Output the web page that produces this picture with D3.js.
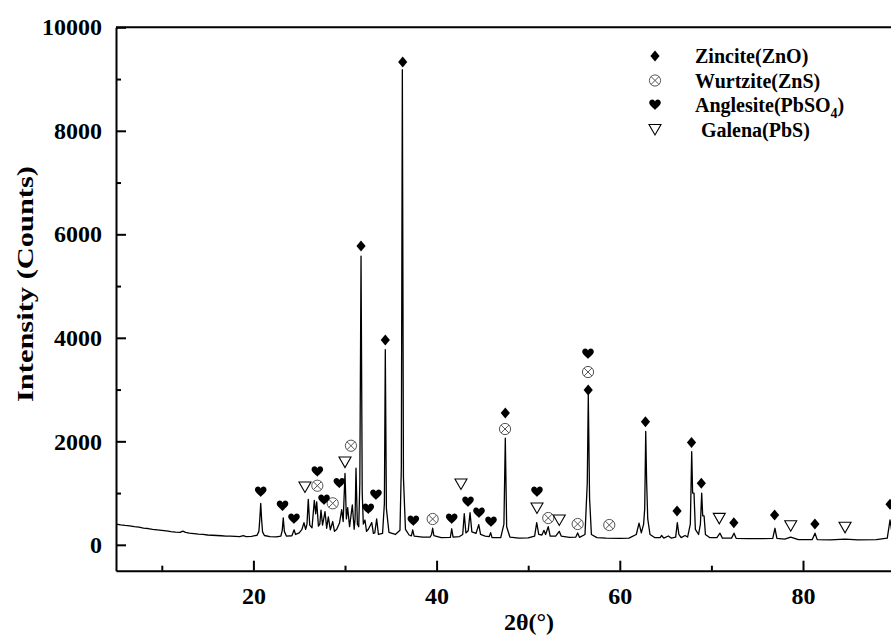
<!DOCTYPE html>
<html>
<head>
<meta charset="utf-8">
<script src="https://cdn.jsdelivr.net/npm/d3@7"></script>
<style>
  body { margin: 0; background: #fff; }
  svg { display: block; }
</style>
</head>
<body>
<svg id="chart" width="891" height="635"></svg>
<script>
// XRD pattern: [2θ, counts]
const pattern = [
  [5.0, 400], [5.5, 385], [6.0, 375], [6.5, 368], [7.0, 350], [7.5, 340], [8.0, 322], [8.5, 315],
  [9.0, 300], [9.5, 290], [10.0, 280], [10.5, 268], [11.0, 255], [11.5, 245], [12.0, 240], [12.3, 265],
  [12.6, 240], [13.0, 225], [13.5, 215], [14.0, 205], [14.5, 200], [15.0, 190], [15.5, 185], [16.0, 180],
  [16.5, 175], [17.0, 170], [17.5, 170], [18.0, 165], [18.5, 160], [18.9, 178], [19.2, 160], [19.8, 165],
  [20.4, 185], [20.6, 260], [20.7, 500], [20.8, 800], [20.9, 480], [21.0, 250], [21.2, 180], [21.8, 160],
  [22.5, 155], [23.0, 170], [23.15, 280], [23.26, 520], [23.38, 260], [23.6, 170], [24.2, 175], [24.45, 290],
  [24.6, 200], [25.0, 230], [25.3, 300], [25.52, 430], [25.7, 300], [25.85, 400], [25.99, 880], [26.15, 380],
  [26.4, 330], [26.65, 860], [26.8, 600], [26.91, 830], [27.1, 360], [27.25, 400], [27.38, 670], [27.55, 380],
  [27.82, 640], [28.0, 320], [28.18, 540], [28.4, 290], [28.66, 450], [28.85, 260], [29.1, 300], [29.4, 420],
  [29.64, 680], [29.8, 450], [30.0, 1380], [30.15, 500], [30.29, 720], [30.5, 350], [30.8, 770], [31.0, 300],
  [31.1, 500], [31.2, 1480], [31.35, 400], [31.5, 350], [31.62, 1200], [31.75, 5580], [31.88, 1000], [32.0, 400],
  [32.18, 480], [32.35, 260], [32.55, 300], [32.92, 430], [33.1, 220], [33.25, 230], [33.46, 500], [33.65, 200],
  [34.1, 220], [34.3, 800], [34.4, 3770], [34.52, 700], [34.8, 240], [35.5, 200], [36.0, 280], [36.15, 1500],
  [36.26, 9180], [36.38, 1300], [36.6, 300], [37.0, 190], [37.25, 175], [37.39, 290], [37.55, 170], [38.5, 150],
  [39.3, 150], [39.45, 200], [39.57, 320], [39.7, 180], [40.5, 140], [41.5, 145], [41.65, 310], [41.8, 150],
  [42.5, 160], [42.85, 200], [43.02, 600], [43.2, 230], [43.45, 270], [43.65, 620], [43.85, 250], [44.3, 220],
  [44.6, 390], [44.8, 200], [45.3, 170], [45.75, 160], [45.9, 235], [46.05, 140], [47.0, 140], [47.35, 400],
  [47.5, 2060], [47.65, 350], [48.0, 150], [49.0, 130], [50.0, 135], [50.7, 170], [50.93, 430], [51.15, 200],
  [51.5, 190], [51.72, 280], [51.9, 200], [52.19, 350], [52.4, 170], [53.0, 170], [53.39, 260], [53.6, 170],
  [54.5, 145], [55.2, 150], [55.4, 230], [55.6, 145], [56.2, 200], [56.45, 1200], [56.56, 2900], [56.7, 900],
  [56.9, 200], [57.5, 140], [58.5, 130], [60.0, 125], [61.0, 130], [61.8, 200], [62.1, 420], [62.35, 230],
  [62.6, 400], [62.72, 700], [62.83, 2190], [62.93, 1220], [63.05, 500], [63.3, 200], [63.8, 140], [64.4, 140],
  [64.57, 180], [64.8, 130], [65.3, 170], [65.6, 130], [66.1, 150], [66.28, 430], [66.45, 200], [66.7, 140],
  [67.12, 180], [67.4, 150], [67.7, 400], [67.85, 1800], [67.95, 1000], [68.1, 1000], [68.25, 300], [68.6, 200],
  [68.8, 400], [68.94, 1000], [69.05, 560], [69.2, 560], [69.35, 200], [69.8, 140], [70.6, 140], [70.94, 225],
  [71.2, 130], [72.2, 130], [72.47, 225], [72.7, 125], [74.0, 120], [75.5, 120], [76.7, 125], [76.94, 320],
  [77.15, 125], [78.0, 110], [78.66, 150], [79.5, 100], [81.0, 100], [81.31, 225], [81.55, 100], [83.0, 95],
  [84.59, 110], [86.0, 95], [88.0, 100], [89.2, 130], [89.5, 480], [89.7, 250], [90.0, 150]
]

// phase markers: [2θ, height of marker centre in counts]
const zincite = [[31.75, 5774], [34.4, 3958], [36.3, 9330], [47.5, 2547], [56.55, 2992], [62.8, 2379],
  [66.25, 654], [67.83, 1977], [68.9, 1189], [72.45, 427], [76.9, 576], [81.3, 402], [89.5, 783]]
const wurtzite = [[26.98, 1142], [28.66, 802], [30.65, 1915], [39.57, 499], [47.47, 2238], [52.19, 518],
  [55.4, 402], [56.53, 3339], [58.85, 383]]
const anglesite = [[20.8, 1021], [23.18, 750], [24.43, 499], [26.98, 1413], [27.71, 866], [29.38, 1189],
  [32.54, 692], [33.38, 963], [37.46, 460], [41.65, 499], [43.43, 827], [44.63, 615], [45.94, 441],
  [50.96, 1021], [56.53, 3687]]
const galena = [[25.63, 1117], [30.0, 1600], [42.66, 1175], [50.96, 712], [53.39, 480], [70.86, 512],
  [78.66, 370], [84.59, 339]]

const legendItems = [
  { key: 'zincite', label: 'Zincite(ZnO)' },
  { key: 'wurtzite', label: 'Wurtzite(ZnS)' },
  { key: 'anglesite', label: 'Anglesite(PbSO', sub: '4', tail: ')' },
  { key: 'galena', label: ' Galena(PbS)' }
]

const xMajor = [20, 40, 60, 80]
const xMinor = [10, 30, 50, 70, 90]
const yMajor = [0, 2000, 4000, 6000, 8000, 10000]
const yMinor = [1000, 3000, 5000, 7000, 9000]

const serif = '"Liberation Serif", Tinos, "Times New Roman", Times, "DejaVu Serif", serif'

const svg = d3.select('#chart')
const x = d3.scaleLinear().domain([5, 90]).range([116, 894.6])
const y = d3.scaleLinear().domain([-500, 10000]).range([570.7, 27.3])

// marker shapes, centred on 0,0
const shapes = {
  zincite: g => g.append('path').attr('d', 'M0,-5.5L4.6,0L0,5.5L-4.6,0Z').attr('fill', '#000'),
  wurtzite: g => {
    g.append('circle').attr('r', 5.6).attr('fill', '#fff').attr('stroke', '#555').attr('stroke-width', 1)
    g.append('path').attr('d', 'M-4,-4L4,4M4,-4L-4,4').attr('stroke', '#555').attr('stroke-width', 1)
  },
  anglesite: g => g.append('path')
    .attr('d', 'M0,5C-1,3.5 -5.8,0.5 -5.8,-2.2C-5.8,-4.6 -4,-5.4 -2.8,-5.4C-1.5,-5.4 -0.4,-4.6 0,-3.4' +
      'C0.4,-4.6 1.5,-5.4 2.8,-5.4C4,-5.4 5.8,-4.6 5.8,-2.2C5.8,0.5 1,3.5 0,5Z')
    .attr('fill', '#000'),
  galena: g => g.append('path').attr('d', 'M-6,-5L6,-5L0,5.5Z')
    .attr('fill', '#fff').attr('stroke', '#000').attr('stroke-width', 1.1)
}

// pattern line
const line = d3.line().x(d => x(d[0])).y(d => y(d[1]))
svg.append('path')
  .datum(pattern)
  .attr('fill', 'none')
  .attr('stroke', '#000')
  .attr('stroke-width', 1.3)
  .attr('stroke-linejoin', 'round')
  .attr('d', line)

// markers
const phases = { zincite, wurtzite, anglesite, galena }
Object.keys(phases).forEach(key => {
  phases[key].forEach(d => {
    const g = svg.append('g').attr('transform', `translate(${x(d[0])},${y(d[1])})`)
    shapes[key](g)
  })
})

// axes
function styleAxis (g) {
  g.attr('font-family', serif).attr('font-weight', 'bold').attr('font-size', 24)
  g.select('.domain').attr('stroke-width', 2)
  g.selectAll('.tick line').attr('stroke-width', 2)
  g.selectAll('.tick text').attr('fill', '#000')
}

svg.append('g')
  .attr('transform', `translate(0,${y(-500)})`)
  .call(d3.axisBottom(x).tickValues(xMinor).tickSize(-5).tickFormat('').tickSizeOuter(0))
  .call(g => g.select('.domain').remove())
  .call(styleAxis)
svg.append('g')
  .attr('class', 'x axis')
  .attr('transform', `translate(0,${y(-500)})`)
  .call(d3.axisBottom(x).tickValues(xMajor).tickSize(-10).tickSizeOuter(0).tickPadding(16))
  .call(styleAxis)

svg.append('g')
  .attr('transform', `translate(${x(5)},0)`)
  .call(d3.axisLeft(y).tickValues(yMinor).tickSize(-5).tickFormat('').tickSizeOuter(0))
  .call(g => g.select('.domain').remove())
  .call(styleAxis)
svg.append('g')
  .attr('class', 'y axis')
  .attr('transform', `translate(${x(5)},0)`)
  .call(d3.axisLeft(y).tickValues(yMajor).tickSize(-10).tickSizeOuter(0).tickPadding(14).tickFormat(d3.format('d')))
  .call(styleAxis)

// top frame line
svg.append('line')
  .attr('x1', x(5)).attr('x2', x(90))
  .attr('y1', y(10000)).attr('y2', y(10000))
  .attr('stroke', '#000').attr('stroke-width', 2)

// axis titles
svg.append('text')
  .attr('transform', 'translate(33,284) rotate(-90)')
  .attr('text-anchor', 'middle')
  .attr('font-family', serif).attr('font-weight', 'bold').attr('font-size', 23)
  .attr('textLength', 236)
  .attr('lengthAdjust', 'spacingAndGlyphs')
  .text('Intensity (Counts)')

svg.append('text')
  .attr('x', 529)
  .attr('y', 630)
  .attr('text-anchor', 'middle')
  .attr('font-family', serif).attr('font-weight', 'bold').attr('font-size', 24)
  .text('2θ(°)')

// legend
const legend = svg.append('g')
  .attr('font-family', serif).attr('font-weight', 'bold').attr('font-size', 20)
legendItems.forEach((item, i) => {
  const cy = 56 + i * 24.5
  const g = legend.append('g').attr('transform', `translate(655,${cy})`)
  shapes[item.key](g)
  const t = legend.append('text')
    .attr('x', item.label.startsWith(' ') ? 701 : 695)
    .attr('y', cy + 7)
    .text(item.label.trim())
  if (item.sub) {
    t.append('tspan').attr('dy', 6).attr('font-size', 14).text(item.sub)
    t.append('tspan').attr('dy', -6).text(item.tail)
  }
})
</script>
</body>
</html>
